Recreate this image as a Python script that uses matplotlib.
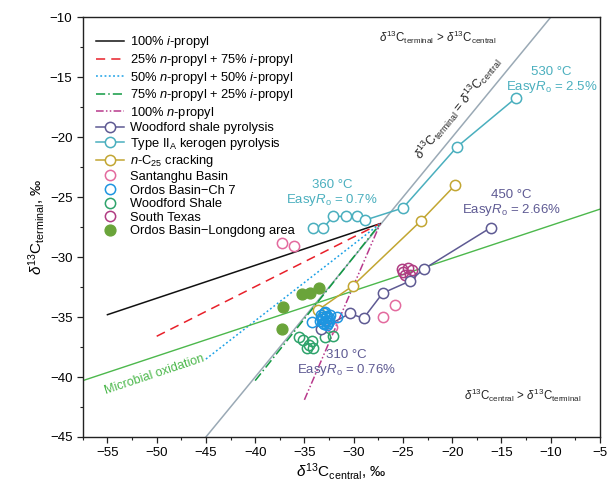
import matplotlib
matplotlib.use("Agg")
import matplotlib.pyplot as plt
import numpy as np

plt.rcParams['font.family'] = ['Liberation Sans', 'DejaVu Sans']
plt.rcParams['mathtext.fontset'] = 'custom'
plt.rcParams['mathtext.rm'] = 'Liberation Sans'
plt.rcParams['mathtext.it'] = 'Liberation Sans:italic'
plt.rcParams['mathtext.bf'] = 'Liberation Sans:bold'

# ---- data ----
# mixing lines: start point -> common end-member on the 1:1 line
end_member = (-27.3, -27.2)
mix_start_x = [-55.0, -50.0, -45.0, -40.0, -35.0]
mix_start_y = [-34.8, -36.6, -38.5, -40.3, -41.9]
mix_labels = [r"100% $i$-propyl",
              r"25% $n$-propyl + 75% $i$-propyl",
              r"50% $n$-propyl + 50% $i$-propyl",
              r"75% $n$-propyl + 25% $i$-propyl",
              r"100% $n$-propyl"]

# microbial oxidation trend
micro_x = [-57.5, -5.0]
micro_y = [-40.3, -26.0]

# pyrolysis / cracking series
wood_pyro_x = [-33.3, -30.4, -29.0, -27.05, -24.3, -22.9, -16.1]
wood_pyro_y = [-36.0, -34.7, -35.1, -33.0, -32.0, -31.0, -27.55]

kero_x = [-34.15, -33.1, -32.1, -30.8, -29.7, -28.8, -25.0, -19.5, -13.5]
kero_y = [-27.6, -27.6, -26.6, -26.6, -26.6, -26.9, -25.9, -20.8, -16.7]

c25_x = [-33.6, -30.1, -23.2, -19.7]
c25_y = [-34.4, -32.4, -27.0, -24.0]

# natural gas samples
santanghu_x = [-37.3, -36.1, -25.8, -27.05, -32.2]
santanghu_y = [-28.8, -29.1, -34.0, -35.0, -35.8]

ordos_ch7_x = [-34.2, -31.7, -33.3, -33.0, -32.7, -32.5, -33.1, -32.8, -32.6,
               -33.2, -32.9, -32.4, -33.0, -32.7, -33.4, -32.8, -32.5, -33.1]
ordos_ch7_y = [-35.4, -35.0, -34.8, -34.7, -34.9, -35.1, -35.2, -35.3, -35.5,
               -35.0, -34.6, -34.8, -35.6, -35.7, -35.3, -35.0, -35.3, -35.5]

wood_shale_x = [-35.5, -35.1, -34.7, -34.2, -34.1, -34.5, -32.9, -32.1]
wood_shale_y = [-36.7, -36.9, -37.6, -37.0, -37.6, -37.3, -36.7, -36.6]

texas_x = [-25.0, -24.5, -24.1, -24.8, -24.3, -25.1]
texas_y = [-31.2, -30.9, -31.1, -31.5, -31.5, -30.95]

longdong_x = [-37.2, -37.3, -35.2, -34.45, -33.5]
longdong_y = [-34.2, -36.0, -33.1, -33.0, -32.6]

# ---- figure ----
fig = plt.figure(figsize=(6.09, 4.96), dpi=100)
ax = fig.add_axes([0.136, 0.119, 0.849, 0.846])

# 1:1 line
ax.plot([-45, -10], [-45, -10], color='#9aa9b5', lw=1.1, zorder=1)

mix_colors = ['#111111', '#e8202a', '#1aa0e6', '#119a42', '#b8398c']
mix_styles = ['-', (0, (6, 4)), (0, (1.2, 1.6)), (0, (6, 2, 1, 2)),
              (0, (5, 1.5, 1, 1.5, 1, 1.5))]
for sx, sy, c, ls, lab in zip(mix_start_x, mix_start_y, mix_colors, mix_styles, mix_labels):
    ax.plot([sx, end_member[0]], [sy, end_member[1]], color=c, ls=ls, lw=1.1,
            label=lab, zorder=2)

ax.plot(micro_x, micro_y, color='#4cb84c', lw=1.0, zorder=2)

ms = 7.4
mew = 1.1
ax.plot(wood_pyro_x, wood_pyro_y, '-o', color='#5e5a93', mfc='white', ms=ms,
        mew=mew, lw=1.1, label='Woodford shale pyrolysis', zorder=4)
ax.plot(kero_x, kero_y, '-o', color='#4aafbe', mfc='white', ms=ms, mew=mew,
        lw=1.1, label=r'Type $\mathrm{II}_{\mathrm{A}}$ kerogen pyrolysis', zorder=4)
ax.plot(c25_x, c25_y, '-o', color='#c2a632', mfc='white', ms=ms, mew=mew,
        lw=1.1, label=r'$n$-C$_{25}$ cracking', zorder=3)

ax.plot(santanghu_x, santanghu_y, 'o', color='#e36a9e', mfc='none', ms=ms,
        mew=mew, ls='none', label='Santanghu Basin', zorder=3)
ax.plot(ordos_ch7_x, ordos_ch7_y, 'o', color='#1e95e0', mfc='none', ms=ms,
        mew=mew, ls='none', label='Ordos Basin\u2212Ch 7', zorder=5)
ax.plot(wood_shale_x, wood_shale_y, 'o', color='#2ea36b', mfc='none', ms=ms,
        mew=mew, ls='none', label='Woodford Shale', zorder=3)
ax.plot(texas_x, texas_y, 'o', color='#b03c82', mfc='none', ms=ms, mew=mew,
        ls='none', label='South Texas', zorder=3)
ax.plot(longdong_x, longdong_y, 'o', color='#6aa43a', mec='#6aa43a', ms=7.8,
        ls='none', label='Ordos Basin\u2212Longdong area', zorder=3)

# annotations
ax.text(-50.2, -39.8, 'Microbial oxidation', color='#4cb84c', fontsize=9,
        rotation=18.4, ha='center', va='center')
ax.text(-21.5, -11.7, r'$\delta^{13}$C$_{\mathrm{terminal}}$ > $\delta^{13}$C$_{\mathrm{central}}$',
        fontsize=8.3, ha='center', va='center', color='#222222')
ax.text(-12.8, -41.5, r'$\delta^{13}$C$_{\mathrm{central}}$ > $\delta^{13}$C$_{\mathrm{terminal}}$',
        fontsize=8.3, ha='center', va='center', color='#222222')
ax.text(-19.4, -17.6, r'$\delta^{13}$C$_{\mathrm{terminal}}$ = $\delta^{13}$C$_{\mathrm{central}}$',
        fontsize=9, rotation=50.6, ha='center', va='center', color='#222222')
ax.text(-9.9, -15.3, '530 \u00b0C\nEasy$R_{\\mathrm{o}}$ = 2.5%', color='#4aafbe',
        fontsize=9.5, ha='center', va='center', linespacing=1.1)
ax.text(-32.2, -24.7, '360 \u00b0C\nEasy$R_{\\mathrm{o}}$ = 0.7%', color='#4aafbe',
        fontsize=9.5, ha='center', va='center', linespacing=1.1)
ax.text(-13.95, -25.5, '450 \u00b0C\nEasy$R_{\\mathrm{o}}$ = 2.66%', color='#5e5a93',
        fontsize=9.5, ha='center', va='center', linespacing=1.1)
ax.text(-30.7, -38.9, '310 \u00b0C\nEasy$R_{\\mathrm{o}}$ = 0.76%', color='#5e5a93',
        fontsize=9.5, ha='center', va='center', linespacing=1.1)

# axes
ax.set_xlim(-57.5, -5)
ax.set_ylim(-45, -10)
ax.set_xticks(np.arange(-55, -4, 5))
ax.set_yticks(np.arange(-45, -9, 5))
ax.set_xticks(np.arange(-57.5, -4, 2.5), minor=True)
ax.set_yticks(np.arange(-45, -9, 2.5), minor=True)
ax.tick_params(which='both', direction='out', top=False, right=False,
               labelsize=9.5, color='#222222')
ax.tick_params(which='major', length=4, width=0.9)
ax.tick_params(which='minor', length=2.5, width=0.8)
ax.set_xticklabels([f'\u2212{abs(v)}' for v in range(-55, -4, 5)])
ax.set_yticklabels([f'\u2212{abs(v)}' for v in range(-45, -9, 5)])
for s in ax.spines.values():
    s.set_linewidth(1.0)
    s.set_color('#222222')

permil = '\u2030'
ax.set_xlabel(r'$\delta^{13}$C$_{\mathrm{central}}$, ' + permil, fontsize=11, labelpad=1)
ax.set_ylabel(r'$\delta^{13}$C$_{\mathrm{terminal}}$, ' + permil, fontsize=11, labelpad=2)

leg = ax.legend(loc='upper left', bbox_to_anchor=(0.0, 0.99), frameon=False,
                fontsize=9.3, handlelength=2.2, handletextpad=0.45,
                labelspacing=0.12, borderaxespad=0.6)

fig.savefig('out.png', dpi=100)
